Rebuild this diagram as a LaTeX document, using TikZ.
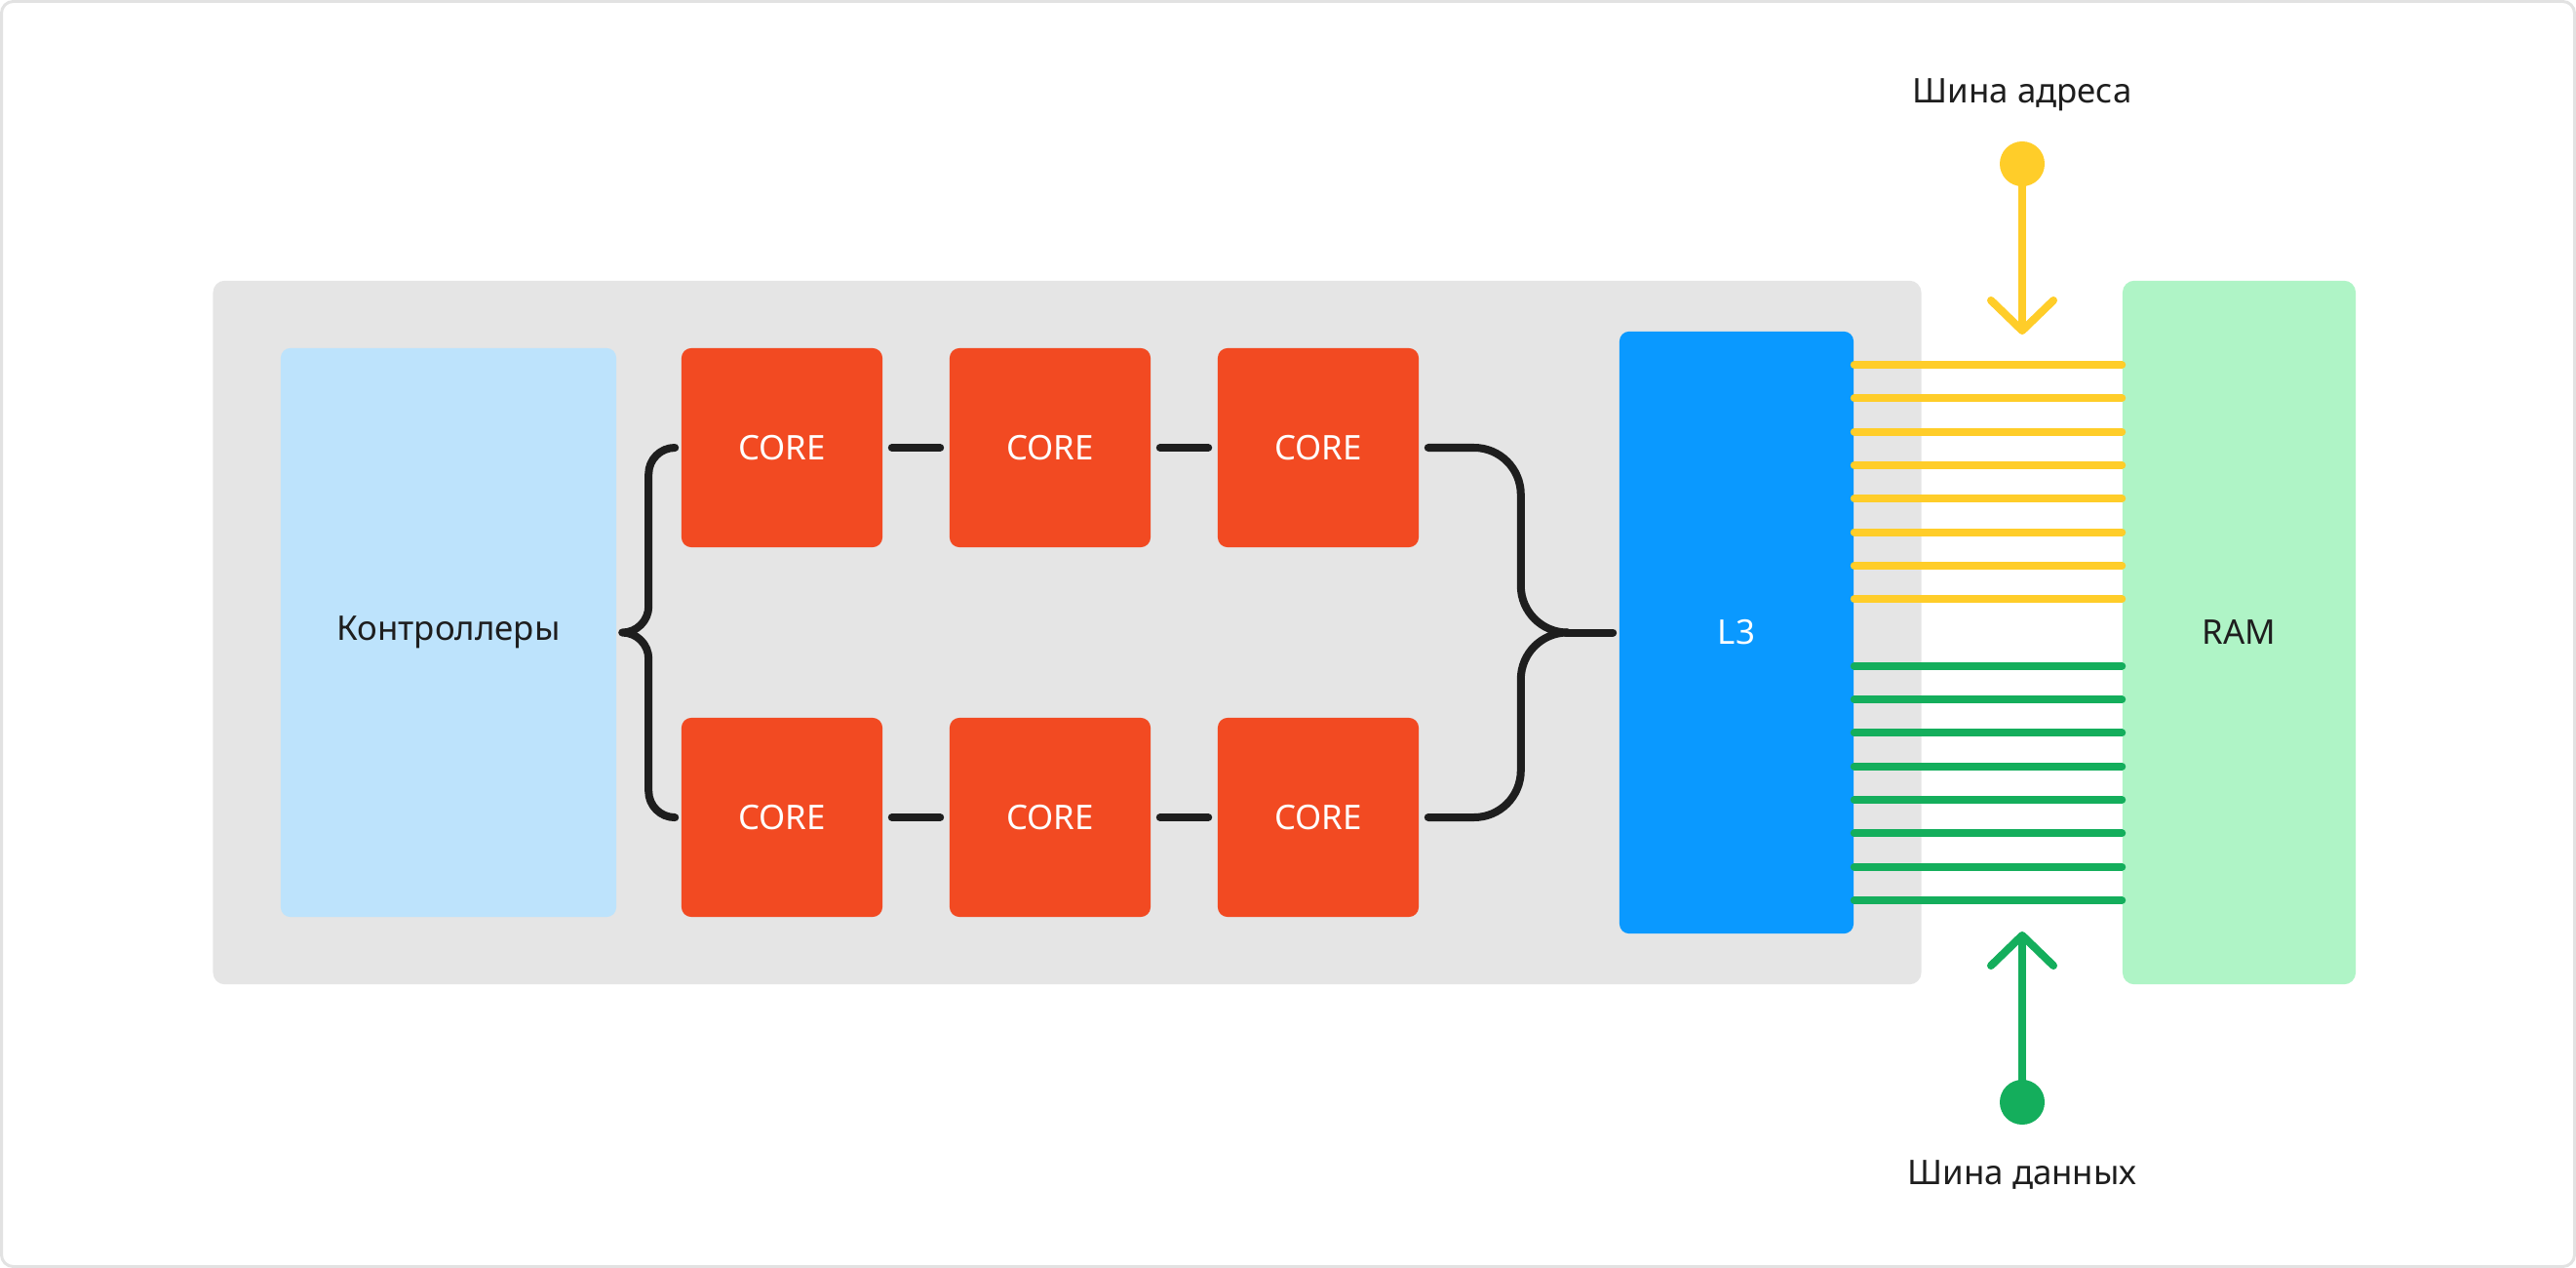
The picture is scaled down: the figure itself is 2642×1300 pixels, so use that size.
\documentclass[tikz,border=0pt]{standalone}
\usepackage{fontspec}
\setmainfont{Noto Sans}
\usetikzlibrary{arrows.meta}
\definecolor{frame grey}{HTML}{E2E2E2}
\definecolor{chip grey}{HTML}{E5E5E5}
\definecolor{ctrl blue}{HTML}{BDE3FC}
\definecolor{core red}{HTML}{F24A22}
\definecolor{cache blue}{HTML}{0A99FF}
\definecolor{ram green}{HTML}{AFF4C6}
\definecolor{bus yellow}{HTML}{FFCD29}
\definecolor{bus green}{HTML}{14AE5C}
\definecolor{wire black}{HTML}{1E1E1E}

\begin{document}
\begin{tikzpicture}[x=0.01cm, y=-0.01cm,
		box/.style={rounded corners=0.1cm, inner sep=0pt, text=wire black,
			font=\fontsize{9.9}{12}\selectfont},
		core/.style={box, fill=core red, text=white,
			minimum width=2.06cm, minimum height=2.04cm},
		wire/.style={line width=0.08cm, line cap=round, line join=round, draw=wire black},
		bus/.style={line width=0.08cm, line cap=round},
		busdot/.style={circle, inner sep=0pt, minimum size=0.46cm},
		buslabel/.style={text=wire black, font=\fontsize{9.9}{12}\selectfont}]
		\useasboundingbox (0, 0) rectangle (2642, 1300);
		% frame
		\draw[frame grey, fill=white, line width=0.03cm, rounded corners=0.12cm]
			(1.5, 1.5) rectangle (2640.5, 1298.5);
		% chip
		\node[box, fill=chip grey, rounded corners=0.12cm,
			minimum width=17.51cm, minimum height=7.21cm] (chip) at (1094.5, 648.5) {};
		\node[box, fill=ctrl blue, minimum width=3.44cm, minimum height=5.83cm]
			(ctrl) at (460, 648.5) {Контроллеры};
		\node[core] (c11) at (802, 459) {CORE};
		\node[core] (c12) at (1077, 459) {CORE};
		\node[core] (c13) at (1352, 459) {CORE};
		\node[core] (c21) at (802, 838) {CORE};
		\node[core] (c22) at (1077, 838) {CORE};
		\node[core] (c23) at (1352, 838) {CORE};
		\node[box, fill=cache blue, text=white, minimum width=2.40cm, minimum height=6.17cm]
			(l3) at (1781, 648.5) {L3};
		% memory
		\node[box, fill=ram green, rounded corners=0.12cm,
			minimum width=2.39cm, minimum height=7.21cm] (ram) at (2296.5, 648.5) {RAM};
		% core chains
		\draw[wire] ([xshift=0.09cm]c11.east) -- ([xshift=-0.09cm]c12.west);
		\draw[wire] ([xshift=0.09cm]c12.east) -- ([xshift=-0.09cm]c13.west);
		\draw[wire] ([xshift=0.09cm]c21.east) -- ([xshift=-0.09cm]c22.west);
		\draw[wire] ([xshift=0.09cm]c22.east) -- ([xshift=-0.09cm]c23.west);
		% left brace
		\draw[wire] ([xshift=-0.06cm]c11.west)
			arc[start angle=90, end angle=180, radius=0.27cm] -- ++(0, 135.5)
			arc[start angle=0, end angle=-90, radius=0.27cm]
			arc[start angle=90, end angle=0, radius=0.27cm] -- ++(0, 135.5)
			arc[start angle=180, end angle=270, radius=0.27cm];
		% right brace
		\coordinate (merge) at (1606, 648.5);
		\draw[wire] ([xshift=0.09cm]c13.east) -- ++(47, 0)
			arc[start angle=90, end angle=0, radius=0.48cm] -- ++(0, 93.5)
			arc[start angle=180, end angle=270, radius=0.48cm];
		\draw[wire] ([xshift=0.09cm]c23.east) -- ++(47, 0)
			arc[start angle=-90, end angle=0, radius=0.48cm] -- ++(0, -93.5)
			arc[start angle=180, end angle=90, radius=0.48cm];
		\draw[wire] (merge) -- ([xshift=-0.06cm]l3.west);
		% buses
		\foreach \k in {1,...,8} {
			\draw[bus, bus yellow] ([yshift=\k*0.343cm]l3.east) -- ([yshift=\k*0.343cm]ram.west);
			\draw[bus, bus green] ([yshift=-\k*0.343cm]l3.east) -- ([yshift=-\k*0.343cm]ram.west);
		}
		% address bus
		\node[buslabel] (alabel) at (2074, 97) {Шина адреса};
		\node[busdot, fill=bus yellow] (adot) at (2074, 168) {};
		\coordinate (atip) at (2074, 343);
		\draw[bus, bus yellow, -{Straight Barb[length=0.31cm, width=0.64cm, line cap=round, line join=round]}]
			(adot.center) -- (atip);
		% data bus
		\node[buslabel] (dlabel) at (2074, 1204) {Шина данных};
		\node[busdot, fill=bus green] (ddot) at (2074, 1130) {};
		\coordinate (dtip) at (2074, 955);
		\draw[bus, bus green, -{Straight Barb[length=0.31cm, width=0.64cm, line cap=round, line join=round]}]
			(ddot.center) -- (dtip);
	\end{tikzpicture}
\end{document}
